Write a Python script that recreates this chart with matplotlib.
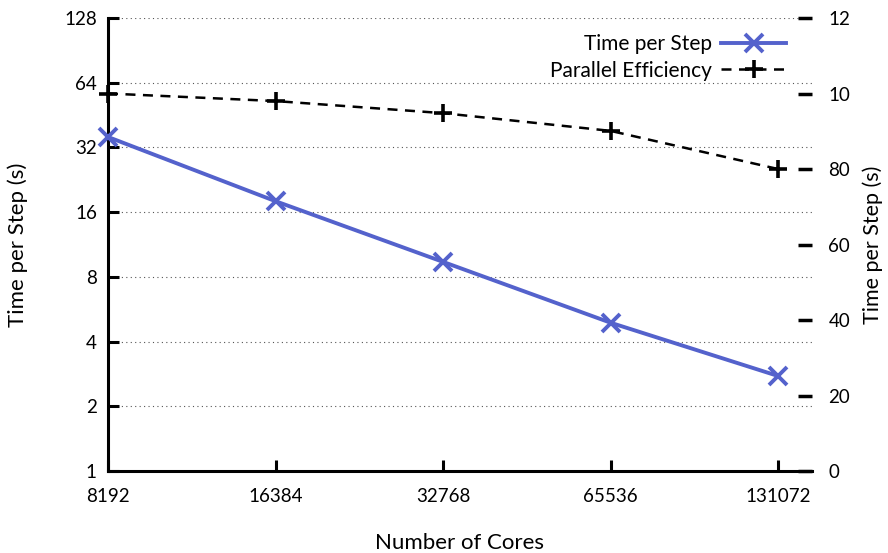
import numpy as np
import matplotlib.pyplot as plt
from matplotlib.ticker import FixedLocator, NullLocator

plt.rcParams['font.family'] = ['Lato', 'DejaVu Sans']
plt.rcParams['font.size'] = 13.5

cores = [8192, 16384, 32768, 65536, 131072]
time_per_step = [35.8, 18.0, 9.4, 4.9, 2.77]
efficiency = [100.0, 98.0, 94.8, 90.1, 80.0]

left_ticks = [1, 2, 4, 8, 16, 32, 64, 128]
right_ticks = [0, 20, 40, 60, 80, 100, 120]
right_labels = ["0", "20", "40", "60", "80", "10", "12"]

blue = "#5462cc"

fig = plt.figure(figsize=(8.88, 5.53), dpi=100)
ax = fig.add_axes([0.1216, 0.148, 0.7924, 0.8195])
ax2 = ax.twinx()

ax.set_xscale("log", base=2)
ax.set_yscale("log", base=2)
ax.set_xlim(8192, 2 ** 17.2)
ax.set_ylim(1, 128)
ax2.set_ylim(0, 120)

# grid
for t in left_ticks[1:]:
    ax.axhline(t, color="#555555", lw=0.8, ls=(0, (1, 3)), zorder=0)

ax.xaxis.set_major_locator(FixedLocator(cores))
ax.xaxis.set_minor_locator(NullLocator())
ax.set_xticklabels([str(c) for c in cores])
ax.yaxis.set_major_locator(FixedLocator(left_ticks))
ax.yaxis.set_minor_locator(NullLocator())
ax.set_yticklabels([str(t) for t in left_ticks])
ax2.yaxis.set_major_locator(FixedLocator(right_ticks))
ax2.set_yticklabels(right_labels)

for a in (ax, ax2):
    a.spines["top"].set_visible(False)
    a.spines["right"].set_visible(False)
ax2.spines["left"].set_visible(False)
ax2.spines["bottom"].set_visible(False)
ax.spines["left"].set_linewidth(2.2)
ax.spines["bottom"].set_linewidth(2.2)

ax.tick_params(axis="both", direction="in", length=8, width=2.2, pad=8)
ax.tick_params(axis="x", pad=12)
ax2.tick_params(axis="y", direction="in", length=10, width=2.5, pad=12)

l1, = ax.plot(cores, time_per_step, color=blue, lw=2.8, marker="x",
              ms=13, mew=2.8, clip_on=False, zorder=5, label="Time per Step")
l2, = ax2.plot(cores, efficiency, color="black", lw=1.8, ls=(0, (4, 3)),
               marker="+", ms=13, mew=2.6, clip_on=False, zorder=5,
               label="Parallel Efficiency")

ax.set_xlabel("Number of Cores", fontsize=16, labelpad=20)
ax.set_ylabel("Time per Step (s)", fontsize=16, labelpad=26)
ax2.set_ylabel("Time per Step (s)", fontsize=15.5, labelpad=9)

leg = ax2.legend(handles=[l1, l2], loc="upper right", bbox_to_anchor=(0.99, 1.005),
                 frameon=False, markerfirst=False, handlelength=3.1,
                 handletextpad=0.45, labelspacing=0.3, fontsize=15)

fig.savefig("out.png", dpi=100)
